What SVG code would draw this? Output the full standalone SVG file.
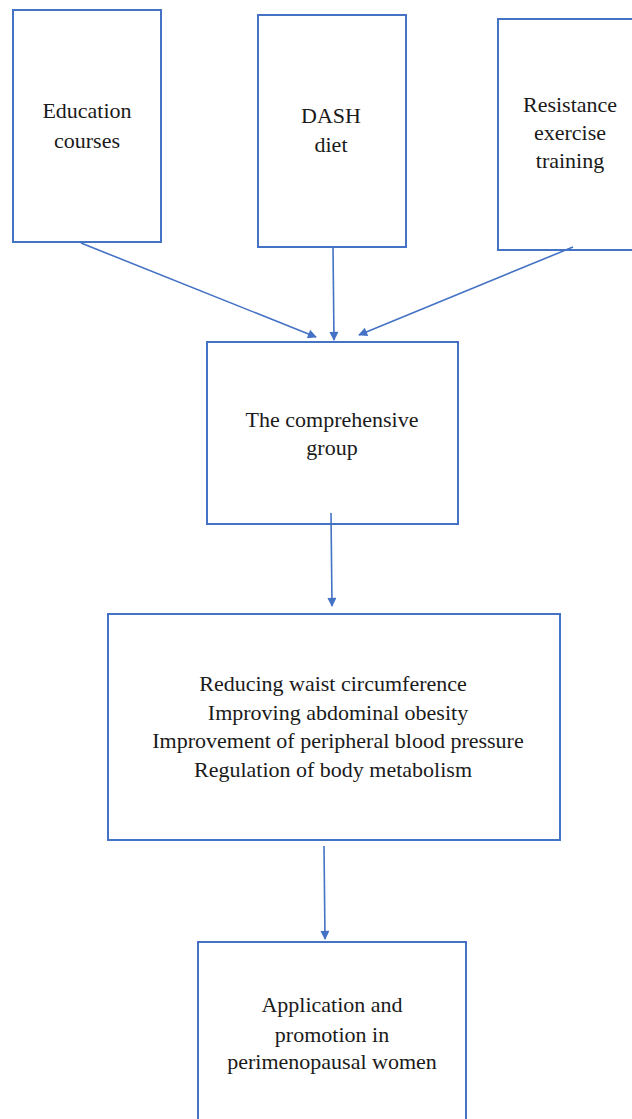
<svg xmlns="http://www.w3.org/2000/svg" width="632" height="1119" viewBox="0 0 632 1119">
<style>
.box{fill:#fff;stroke:#4472C4;stroke-width:2}
.t{font-size:22px;fill:#1a1a1a;text-anchor:middle}
.c{stroke:#4472C4;stroke-width:1.6;fill:none;marker-end:url(#ah)}
</style>
<defs>
<marker id="ah" viewBox="0 0 10 10" refX="9" refY="5" markerWidth="10" markerHeight="9" markerUnits="userSpaceOnUse" orient="auto">
<path d="M0,0 L10,5 L0,10 z" fill="#4472C4"/>
</marker>
</defs>
<rect width="632" height="1119" fill="#fff"/>
<g font-family="Liberation Serif, Times New Roman, serif">
<g id="n1"><rect class="box" x="13" y="10" width="148" height="232"/>
<text class="t" x="87" y="118">Education</text><text class="t" x="87" y="148">courses</text></g>
<g id="n2"><rect class="box" x="258" y="15" width="148" height="232"/>
<text class="t" x="331" y="123">DASH</text><text class="t" x="331" y="152">diet</text></g>
<g id="n3"><rect class="box" x="498" y="19" width="150" height="231"/>
<text class="t" x="570" y="112">Resistance</text><text class="t" x="570" y="140">exercise</text><text class="t" x="570" y="168">training</text></g>
<g id="n4"><rect class="box" x="207" y="342" width="251" height="182"/>
<text class="t" x="332" y="427">The comprehensive</text><text class="t" x="332" y="455">group</text></g>
<g id="n5"><rect class="box" x="108" y="614" width="452" height="226"/>
<text class="t" x="333" y="691">Reducing waist circumference</text>
<text class="t" x="338" y="720">Improving abdominal obesity</text>
<text class="t" x="338" y="748">Improvement of peripheral blood pressure</text>
<text class="t" x="333" y="777">Regulation of body metabolism</text></g>
<g id="n6"><rect class="box" x="198" y="942" width="268" height="190"/>
<text class="t" x="332" y="1012">Application and</text><text class="t" x="332" y="1042">promotion in</text><text class="t" x="332" y="1069">perimenopausal women</text></g>
</g>
<g id="connectors">
<line class="c" x1="81" y1="243" x2="316" y2="337"/>
<line class="c" x1="333" y1="247" x2="334" y2="340"/>
<line class="c" x1="573" y1="247" x2="359" y2="335"/>
<line class="c" x1="331" y1="513" x2="332" y2="606"/>
<line class="c" x1="324" y1="846" x2="325" y2="939"/>
</g>
</svg>
